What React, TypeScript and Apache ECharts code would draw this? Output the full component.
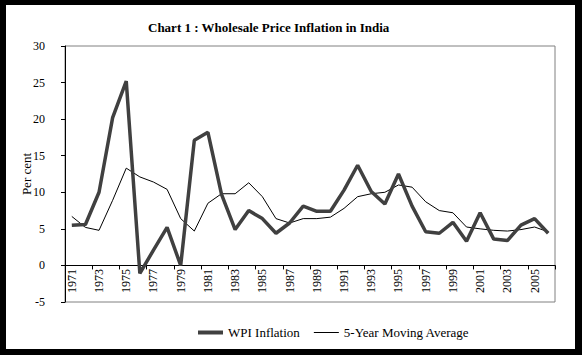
import React, { useEffect, useRef } from "react";
import * as echarts from "echarts";

const years = [
  "1971", "1972", "1973", "1974", "1975", "1976", "1977", "1978", "1979", "1980",
  "1981", "1982", "1983", "1984", "1985", "1986", "1987", "1988", "1989", "1990",
  "1991", "1992", "1993", "1994", "1995", "1996", "1997", "1998", "1999", "2000",
  "2001", "2002", "2003", "2004", "2005", "2006",
];

const wpiInflation = [
  5.5, 5.6, 10.0, 20.2, 25.2, -1.1, 2.1, 5.2, 0.0, 17.1,
  18.2, 9.7, 4.9, 7.5, 6.4, 4.4, 5.8, 8.1, 7.4, 7.4,
  10.3, 13.7, 10.1, 8.4, 12.5, 8.1, 4.6, 4.4, 5.9, 3.3,
  7.2, 3.6, 3.4, 5.5, 6.4, 4.4,
];

const movingAverage = [
  6.7, 5.2, 4.8, 8.9, 13.3, 12.1, 11.4, 10.4, 6.4, 4.7,
  8.5, 9.8, 9.8, 11.3, 9.4, 6.4, 5.8, 6.4, 6.4, 6.6,
  7.8, 9.4, 9.8, 10.0, 11.0, 10.7, 8.7, 7.5, 7.2, 5.25,
  5.0, 4.8, 4.7, 4.9, 5.25, 4.6,
];

const FONT = "'Liberation Serif', 'Times New Roman', serif";

export default function App() {
  const ref = useRef<HTMLDivElement>(null);

  useEffect(() => {
    document.body.style.margin = "0";
    if (!ref.current) return;
    const chart = echarts.init(ref.current, null, { renderer: "svg" });
    chart.setOption({
      animation: false,
      backgroundColor: "#ffffff",
      textStyle: { fontFamily: FONT, color: "#000" },
      title: {
        text: "Chart 1 : Wholesale Price Inflation in India",
        left: 143,
        top: 16,
        textStyle: { fontFamily: FONT, fontSize: 13, fontWeight: "bold", color: "#000" },
      },
      graphic: [
        { type: "rect", shape: { x: 0, y: 0, width: 582, height: 5 }, style: { fill: "#000" }, z: 100 },
        { type: "rect", shape: { x: 0, y: 349, width: 582, height: 6 }, style: { fill: "#000" }, z: 100 },
        { type: "rect", shape: { x: 0, y: 0, width: 6, height: 355 }, style: { fill: "#000" }, z: 100 },
        { type: "rect", shape: { x: 575, y: 0, width: 7, height: 355 }, style: { fill: "#000" }, z: 100 },
      ],
      grid: {
        left: 65,
        right: 27,
        top: 46,
        bottom: 53,
        show: true,
        borderColor: "#808080",
        borderWidth: 1,
        backgroundColor: "transparent",
      },
      legend: {
        bottom: 11,
        left: 193,
        itemWidth: 25,
        itemHeight: 10,
        itemGap: 14,
        textStyle: { fontFamily: FONT, fontSize: 13, color: "#000" },
        data: [
          { name: "WPI Inflation", icon: "path://M0 0H25V4H0Z" },
          { name: "5-Year Moving Average", icon: "path://M0 0H25V1H0Z" },
        ],
      },
      xAxis: {
        type: "category",
        data: years,
        boundaryGap: true,
        axisLine: { onZero: true, lineStyle: { color: "#000", width: 1 } },
        axisTick: { show: true, interval: 1, inside: false, length: 4, lineStyle: { color: "#000" } },
        axisLabel: {
          interval: 1,
          rotate: 90,
          margin: -33,
          fontFamily: FONT,
          fontSize: 12,
          color: "#000",
        },
        splitLine: { show: false },
      },
      yAxis: {
        type: "value",
        min: -5,
        max: 30,
        interval: 5,
        name: "Per cent",
        nameLocation: "middle",
        nameGap: 32,
        nameMoveOverlap: false,
        nameTextStyle: { fontFamily: FONT, fontSize: 13, color: "#000" },
        axisLine: { show: true, lineStyle: { color: "#000", width: 1 } },
        axisTick: { show: true, inside: false, length: 4, lineStyle: { color: "#000" } },
        axisLabel: { margin: 20, fontFamily: FONT, fontSize: 12, color: "#000" },
        splitLine: { show: false },
      },
      series: [
        {
          name: "WPI Inflation",
          type: "line",
          data: wpiInflation,
          symbol: "none",
          lineStyle: { color: "#404040", width: 3.5 },
          itemStyle: { color: "#404040" },
          z: 3,
        },
        {
          name: "5-Year Moving Average",
          type: "line",
          data: movingAverage,
          symbol: "none",
          lineStyle: { color: "#000", width: 1 },
          itemStyle: { color: "#000" },
          z: 2,
        },
      ],
    });
    return () => chart.dispose();
  }, []);

  return <div ref={ref} style={{ width: 582, height: 355 }} />;
}
